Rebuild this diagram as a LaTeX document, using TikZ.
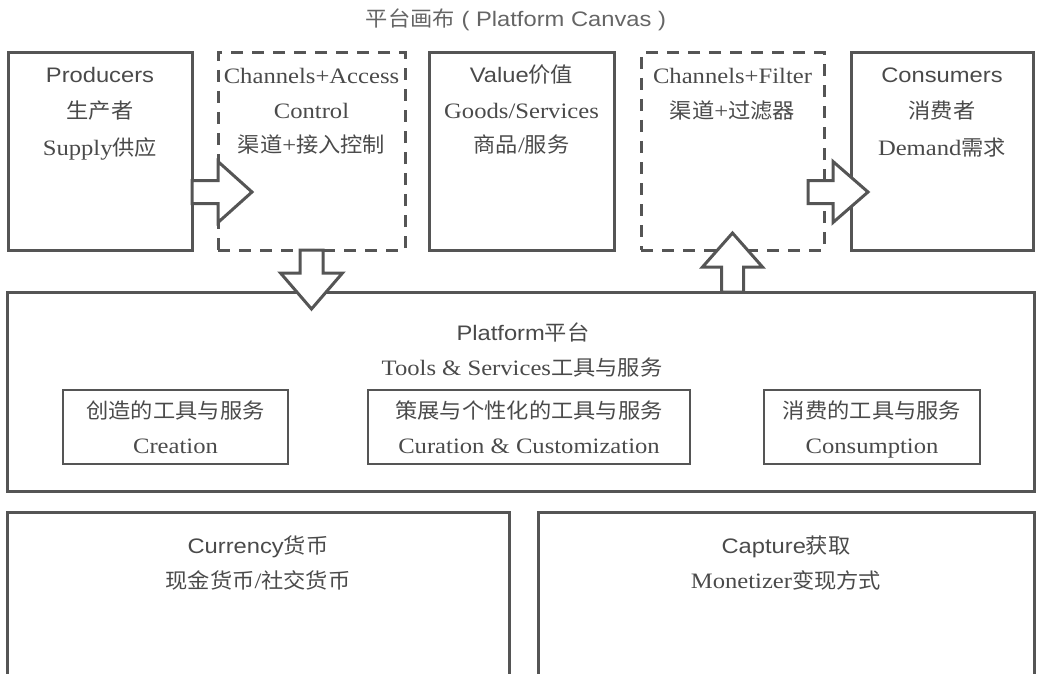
\documentclass[tikz,border=0pt]{standalone}
\usepackage{fontspec}
\setmainfont{Liberation Serif}[FakeStretch=1.12]
\setsansfont{Liberation Sans}[FakeStretch=1.13]
\newfontfamily\cjfam{Noto Sans CJK SC}[FakeStretch=1.06]
\newcommand\cj{\cjfam\fontsize{21}{26}\selectfont}
\usetikzlibrary{calc}
\definecolor{ln}{HTML}{555555}
\definecolor{tx}{HTML}{4a4a4a}
\begin{document}
\begin{tikzpicture}[x=1pt,y=-1pt,
  box/.style={draw=ln, line width=3pt, rectangle, inner sep=0pt, outer sep=0pt},
  dbox/.style={box, dash pattern=on 12pt off 9pt},
  sbox/.style={draw=ln, line width=2pt, rectangle, inner sep=0pt, outer sep=0pt},
  t/.style={text=tx, font=\fontsize{22}{26}\selectfont\rmfamily, anchor=base, inner sep=0pt},
  ts/.style={t, font=\fontsize{21}{26}\selectfont\sffamily},
  barrow/.style={draw=ln, line width=3pt, fill=white, line join=miter},
]
\useasboundingbox (0,0) rectangle (1038,674);
\clip (0,0) rectangle (1038,674);

% title
\node[ts, text=tx!85] (title) at (516,27) {{\cj 平台画布} ( Platform Canvas )};

% top row boxes
\node[box,  minimum width=184, minimum height=197] (prod)  at (100,151.5) {};
\node[dbox, minimum width=187, minimum height=197] (chan1) at (311.5,151.5) {};
\node[box,  minimum width=185, minimum height=197] (value) at (521.5,151.5) {};
\node[dbox, minimum width=183, minimum height=197] (chan2) at (732.5,151.5) {};
\node[box,  minimum width=182, minimum height=197] (cons)  at (942,151.5) {};

% platform
\node[box, minimum width=1027, minimum height=199] (plat) at (520.5,391.5) {};
\node[sbox, minimum width=225, minimum height=74] (crea) at (175.5,427) {};
\node[sbox, minimum width=322, minimum height=74] (cura) at (529,427) {};
\node[sbox, minimum width=216, minimum height=74] (consu) at (872,427) {};

% lower boxes
\node[box, minimum width=502, minimum height=200] (curr) at (258,612.5) {};
\node[box, minimum width=496, minimum height=200] (capt) at (786,612.5) {};

% texts top row
\node[ts] (prodA) at (prod.center |- 0,83) {Producers};
\node[t]  (prodB) at (prod.center |- 0,119) {\cj 生产者};
\node[t]  (prodC) at (prod.center |- 0,155) {Supply{\cj 供应}};

\node[t] (chanA) at (chan1.center |- 0,84) {Channels+Access};
\node[t] (chanB) at (chan1.center |- 0,119) {Control};
\node[t] (chanC) at (chan1.center |- 0,153) {{\cj 渠道}+{\cj 接入控制}};

\node[ts] (valA) at (value.center |- 0,83) {Value{\cj 价值}};
\node[t]  (valB) at (value.center |- 0,119) {Goods/Services};
\node[t]  (valC) at (value.center |- 0,153) {{\cj 商品}/{\cj 服务}};

\node[t] (filA) at (chan2.center |- 0,84) {Channels+Filter};
\node[t] (filB) at (chan2.center |- 0,119) {{\cj 渠道}+{\cj 过滤器}};

\node[ts] (consA) at (cons.center |- 0,83) {Consumers};
\node[t]  (consB) at (cons.center |- 0,119) {\cj 消费者};
\node[t]  (consC) at (cons.center |- 0,155) {Demand{\cj 需求}};

% platform texts
\node[ts] (platA) at (523,340) {Platform{\cj 平台}};
\node[t]  (platB) at (522,375) {Tools \& Services{\cj 工具与服务}};
\node[t] (creaA) at (crea.center |- 0,418) {\cj 创造的工具与服务};
\node[t] (creaB) at (crea.center |- 0,453) {Creation};
\node[t] (curaA) at (cura.center |- 0,418) {\cj 策展与个性化的工具与服务};
\node[t] (curaB) at (cura.center |- 0,453) {Curation \& Customization};
\node[t] (consuA) at (consu.center |- 0,418) {\cj 消费的工具与服务};
\node[t] (consuB) at (consu.center |- 0,453) {Consumption};

% lower texts
\node[ts] (currA) at (curr.center |- 0,553) {Currency{\cj 货币}};
\node[t]  (currB) at (curr.center |- 0,588) {{\cj 现金货币}/{\cj 社交货币}};
\node[ts] (captA) at (capt.center |- 0,553) {Capture{\cj 获取}};
\node[t]  (captB) at (capt.center |- 0,588) {Monetizer{\cj 变现方式}};

% block arrows
\draw[barrow] ($(prod.east)+(0,29)$) -- ++(26,0) -- ++(0,-19) -- ++(34,30.5)
  -- ++(-34,30.5) -- ++(0,-19) -- ++(-26,0) -- cycle;
\draw[barrow] ($(cons.west)+(-43,29)$) -- ++(25,0) -- ++(0,-19) -- ++(35,30.5)
  -- ++(-35,30.5) -- ++(0,-19) -- ++(-25,0) -- cycle;
\draw[barrow] ($(chan1.south)+(-11.5,0)$) -- ++(0,23) -- ++(-19.5,0) -- ++(31,36)
  -- ++(31,-36) -- ++(-19.5,0) -- ++(0,-23) -- cycle;
\draw[barrow] ($(chan2.south |- plat.north)+(-11,0)$) -- ++(0,-25) -- ++(-19,0) -- ++(30,-34)
  -- ++(30,34) -- ++(-19,0) -- ++(0,25) -- cycle;
\end{tikzpicture}
\end{document}
